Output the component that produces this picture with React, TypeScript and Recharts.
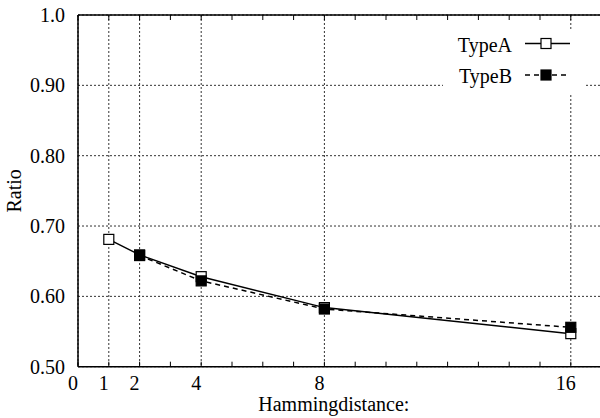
import React from "react";
import {
  LineChart,
  Line,
  XAxis,
  YAxis,
  CartesianGrid,
  Legend,
} from "recharts";

const hamming = [1, 2, 4, 8, 16];
const typeA = [0.681, 0.659, 0.628, 0.584, 0.547];
const typeB = [null, 0.658, 0.622, 0.582, 0.556];

const xTicks = [0, 1, 2, 4, 8, 16];
const minorTicks = [0, 1, 2, 3, 4, 5, 6, 7, 8, 9, 10, 11, 12, 13, 14, 15, 16, 17];
const yTicks = [0.5, 0.6, 0.7, 0.8, 0.9, 1.0];
const yTickLabels = ["0.50", "0.60", "0.70", "0.80", "0.90", "1.0"];
const seriesNames = ["TypeA", "TypeB"];

const FONT = "Liberation Serif";

const data = hamming.map((x, i) => ({ x, TypeA: typeA[i], TypeB: typeB[i] }));

const squareDot = (fill: string) => (p: any) => {
  if (p.cx == null || p.cy == null || p.value == null) return <g key={p.index} />;
  return (
    <rect
      key={p.index}
      x={p.cx - 5}
      y={p.cy - 5}
      width={10}
      height={10}
      fill={fill}
      stroke="#000"
      strokeWidth={1.2}
    />
  );
};

// tick label renderers with explicit serif font
const XTick = (p: any) => (
  <text
    x={p.x - 5}
    y={p.y + 14.5}
    textAnchor="middle"
    fontFamily={FONT}
    fontSize={20}
    fill="#000"
  >
    {p.payload.value}
  </text>
);

const YTick = (p: any) => (
  <text
    x={p.x}
    y={p.y + 7}
    textAnchor="end"
    fontFamily={FONT}
    fontSize={20}
    fill="#000"
  >
    {yTickLabels[yTicks.indexOf(p.payload.value)]}
  </text>
);

const XLabel = (p: any) => {
  const vb = p.viewBox;
  return (
    <text
      x={vb.x + vb.width / 2 - 6}
      y={vb.y + vb.height + 14}
      textAnchor="middle"
      fontFamily={FONT}
      fontSize={20}
      fill="#000"
    >
      Hammingdistance:
    </text>
  );
};

const YLabel = (p: any) => {
  const vb = p.viewBox;
  const cx = vb.x + 21;
  const cy = vb.y + vb.height / 2;
  return (
    <text
      x={cx}
      y={cy}
      transform={`rotate(-90, ${cx}, ${cy})`}
      textAnchor="middle"
      fontFamily={FONT}
      fontSize={20}
      fill="#000"
    >
      Ratio
    </text>
  );
};

const LegendBox = () => (
  <svg width={142} height={63} style={{ display: "block" }}>
    {seriesNames.map((name, i) => {
      const cy = 13.5 + i * 31.5;
      return (
        <g key={name}>
          <text
            x={69}
            y={cy + 8}
            textAnchor="end"
            fontSize={20}
            fontFamily={FONT}
            fill="#000"
          >
            {name}
          </text>
          <line
            x1={82}
            x2={127}
            y1={cy}
            y2={cy}
            stroke="#000"
            strokeWidth={1.5}
            strokeDasharray={i === 1 ? "5 4" : undefined}
          />
          <rect
            x={98}
            y={cy - 5}
            width={10}
            height={10}
            fill={i === 1 ? "#000" : "#fff"}
            stroke="#000"
            strokeWidth={1.2}
          />
        </g>
      );
    })}
  </svg>
);

export default function App() {
  return (
    <div
      style={{
        position: "absolute",
        left: 0,
        top: 0,
        width: 600,
        height: 418,
        overflow: "hidden",
        background: "#fff",
      }}
    >
      <LineChart
        width={610}
        height={418}
        data={data}
        margin={{ top: 15, right: 8.4, bottom: 21.3, left: 0 }}
      >
        <CartesianGrid stroke="#333" strokeDasharray="2 2" strokeWidth={1} />
        <XAxis
          dataKey="x"
          type="number"
          domain={[0, 17]}
          ticks={xTicks}
          interval={0}
          height={30}
          tickLine={false}
          tickSize={6}
          tickMargin={3}
          axisLine={{ stroke: "#000", strokeWidth: 1.5 }}
          tick={XTick}
          label={XLabel}
        />
        <XAxis
          xAxisId="top"
          dataKey="x"
          type="number"
          orientation="top"
          mirror
          domain={[0, 17]}
          ticks={minorTicks}
          interval={0}
          tickSize={5}
          tickLine={{ stroke: "#000", strokeWidth: 1 }}
          axisLine={{ stroke: "#000", strokeWidth: 1.5 }}
          tick={() => <g />}
        />
        <XAxis
          xAxisId="minor"
          dataKey="x"
          type="number"
          orientation="bottom"
          mirror
          domain={[0, 17]}
          ticks={minorTicks}
          interval={0}
          tickSize={5}
          tickLine={{ stroke: "#000", strokeWidth: 1 }}
          axisLine={false}
          tick={() => <g />}
        />
        <YAxis
          type="number"
          domain={[0.5, 1.0]}
          ticks={yTicks}
          interval={0}
          width={78}
          tickLine={false}
          tickSize={6}
          tickMargin={7}
          axisLine={{ stroke: "#000", strokeWidth: 1.5 }}
          tick={YTick}
          label={YLabel}
        />
        <Legend
          layout="horizontal"
          verticalAlign="middle"
          wrapperStyle={{
            left: 443,
            top: 30,
            width: 142,
            height: 63,
            background: "#fff",
          }}
          content={() => <LegendBox />}
        />
        <Line
          type="linear"
          dataKey="TypeA"
          stroke="#000"
          strokeWidth={1.5}
          dot={squareDot("#fff")}
          activeDot={false}
          isAnimationActive={false}
        />
        <Line
          type="linear"
          dataKey="TypeB"
          stroke="#000"
          strokeWidth={1.5}
          strokeDasharray="5 4"
          dot={squareDot("#000")}
          activeDot={false}
          isAnimationActive={false}
        />
      </LineChart>
    </div>
  );
}
